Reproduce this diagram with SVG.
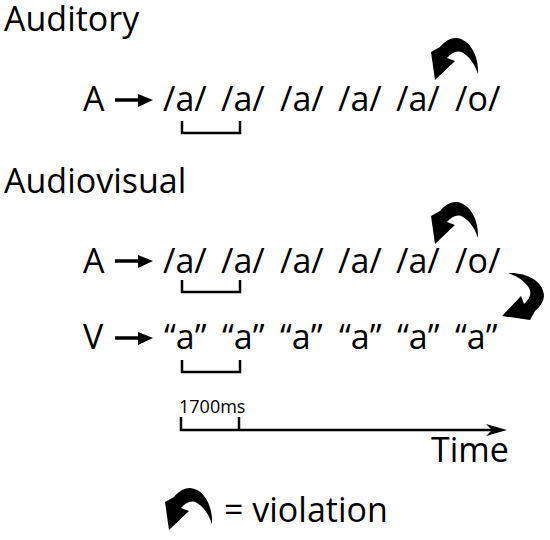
<svg xmlns="http://www.w3.org/2000/svg" width="550" height="540" viewBox="0 0 550 540">
<style>
text{font-family:"Open Sans","Noto Sans",sans-serif;fill:#000;}
.big{font-size:34px;}
.small{font-size:18px;}
.br{fill:none;stroke:#000;stroke-width:2.5;}
.ln{fill:none;stroke:#000;stroke-width:3.5;}
</style>
<defs>
<path id="viol" d="M 0,0 C 1,-18 -8,-35 -22,-36 C -29,-36 -35,-31 -38,-27 L -47,-22 L -43,6 L -23,-13 L -31,-16 C -26,-22 -20,-24 -15,-21 C -8,-17 -3,-9 0,0 Z" fill="#000"/>
</defs>
<rect width="550" height="540" fill="#fff"/>
<g id="titles">
<text class="big" x="4" y="31">Auditory</text>
<text class="big" x="4" y="193">Audiovisual</text>
</g>
<g id="row-auditory">
<text class="big" x="83" y="111">A</text>
<text class="big" y="111"><tspan x="163">/a/</tspan><tspan x="221">/a/</tspan><tspan x="280">/a/</tspan><tspan x="338">/a/</tspan><tspan x="396">/a/</tspan><tspan x="455">/o/</tspan></text>
</g>
<g id="row-av-a">
<text class="big" x="83" y="273">A</text>
<text class="big" y="273"><tspan x="163">/a/</tspan><tspan x="221">/a/</tspan><tspan x="280">/a/</tspan><tspan x="338">/a/</tspan><tspan x="396">/a/</tspan><tspan x="455">/o/</tspan></text>
</g>
<g id="row-av-v">
<text class="big" x="83" y="349">V</text>
<text class="big" y="349"><tspan x="164">“a”</tspan><tspan x="222">“a”</tspan><tspan x="280">“a”</tspan><tspan x="339">“a”</tspan><tspan x="397">“a”</tspan><tspan x="455">“a”</tspan></text>
</g>
<g id="timeline">
<text class="small" x="179" y="413">1700ms</text>
<text class="big" x="431" y="462">Time</text>
</g>
<g id="legend">
<use href="#viol" transform="translate(212,524)"/>
<text class="big" x="224" y="522">= violation</text>
</g>
<g id="connectors">
<path d="M 115,100 L 140,100" class="ln"/>
<polygon points="138,94 153,100 138,107"/>
<path d="M 115,261 L 140,261" class="ln"/>
<polygon points="138,255 153,261 138,268"/>
<path d="M 115,338 L 140,338" class="ln"/>
<polygon points="138,332 153,338 138,345"/>
<path class="br" d="M 182,121 V 133 H 240 V 121"/>
<path class="br" d="M 182,280 V 292 H 240 V 280"/>
<path class="br" d="M 182,360 V 372 H 240 V 360"/>
<path class="br" d="M 181,417 V 430 H 495 M 239,417 V 430"/>
<polygon points="486,424 507,430 486,436 492,430"/>
<use href="#viol" transform="translate(478,74)"/>
<use href="#viol" transform="translate(478,238)"/>
<use href="#viol" transform="matrix(0,-1,-1,0,508,273)"/>
</g>
</svg>
